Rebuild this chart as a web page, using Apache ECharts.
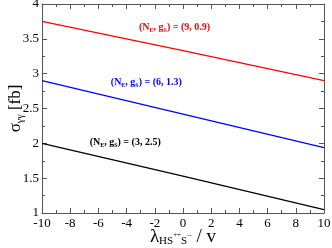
<!DOCTYPE html>
<html><head><meta charset="utf-8">
<script src="https://cdn.jsdelivr.net/npm/echarts@6/dist/echarts.min.js"></script>
<style>html,body{margin:0;padding:0;background:#fff}#c{width:332px;height:248px}</style>
</head><body><div id="c"></div>
<script>
const xVals = [-10, 0, 10];
const red = [3.75, 3.33, 2.90];
const blue = [2.90, 2.42, 1.94];
const black = [2.00, 1.53, 1.05];
const xTicks = [-10, -8, -6, -4, -2, 0, 2, 4, 6, 8, 10];
const yTicks = [1, 1.5, 2, 2.5, 3, 3.5, 4];
const labels = [
  {ne: '9', gs: '0.9', color: '#ff0000', at: [-0.6, 3.67]},
  {ne: '6', gs: '1.3', color: '#0000ff', at: [-2.6, 2.875]},
  {ne: '3', gs: '2.5', color: '#000000', at: [-4.1, 2.02]}
];
const F = 'Liberation Serif, Times New Roman, serif';
const chart = echarts.init(document.getElementById('c'));
function pairs(ys){ return xVals.map((x,i)=>[x, ys[i]]); }
function richFor(c){
  return {
    m: {fontFamily: F, fontWeight: 'bold', fontSize: 10, color: c},
    s: {fontFamily: F, fontWeight: 'bold', fontSize: 6, color: c, padding: [7,0,0,0]}
  };
}
const axisCommon = {
  axisLine: {onZero: false, lineStyle: {color: '#555', width: 1}},
  axisTick: {inside: true, length: 5, lineStyle: {color: '#555'}},
  minorTick: {show: true, splitNumber: 2, length: 3, lineStyle: {color: '#555'}},
  splitLine: {show: false}
};
function line(name, ys, color){
  return {name, type: 'line', data: pairs(ys), symbol: 'none',
    lineStyle: {color, width: 1.3}, silent: true, animation: false, z: 3};
}
function lab(l){
  return {type: 'scatter', data: [l.at], symbolSize: 1, itemStyle: {opacity: 0},
    silent: true, animation: false, z: 5,
    label: {show: true, position: 'inside', opacity: 1,
      formatter: '{m|(N}{s|E}{m|, g}{s|S}{m|) = (' + l.ne + ', ' + l.gs + ')}',
      rich: richFor(l.color)}};
}
chart.setOption({
  animation: false,
  grid: {left: 42, right: 8, top: 4, bottom: 35, outerBoundsMode: 'none', containLabel: false},
  xAxis: [
    Object.assign({type: 'value', min: -10, max: 10, interval: 2, position: 'bottom',
      axisLabel: {fontFamily: F, fontSize: 13, color: '#000', margin: 4},
      name: '{l|λ}{s|HS}{p|++}{s|S}{p|--}{l| / v}', nameLocation: 'middle', nameGap: 15,
      nameMoveOverlap: false,
      nameTextStyle: {rich: {
        l: {fontFamily: F, fontSize: 19, color: '#000'},
        s: {fontFamily: F, fontSize: 11, color: '#000', padding: [8,0,0,0]},
        p: {fontFamily: F, fontSize: 7, color: '#000', padding: [0,0,4,0]}
      }}}, axisCommon),
    Object.assign({type: 'value', min: -10, max: 10, interval: 2, position: 'top',
      axisLabel: {show: false}}, axisCommon)
  ],
  yAxis: [
    Object.assign({type: 'value', min: 1, max: 4, interval: 0.5, position: 'left',
      axisLabel: {fontFamily: F, fontSize: 13, color: '#000', margin: 3},
      name: '{l|σ}{s|γγ}{l| [fb]}', nameLocation: 'middle', nameGap: 17,
      nameMoveOverlap: false,
      nameTextStyle: {rich: {
        l: {fontFamily: F, fontSize: 17, color: '#000'},
        s: {fontFamily: F, fontSize: 10, color: '#000', padding: [8,0,0,0]}
      }}}, axisCommon),
    Object.assign({type: 'value', min: 1, max: 4, interval: 0.5, position: 'right',
      axisLabel: {show: false}}, axisCommon)
  ],
  series: [
    line('red', red, '#ff0000'),
    line('blue', blue, '#0000ff'),
    line('black', black, '#000000'),
    lab(labels[0]), lab(labels[1]), lab(labels[2])
  ]
});
</script></body></html>
